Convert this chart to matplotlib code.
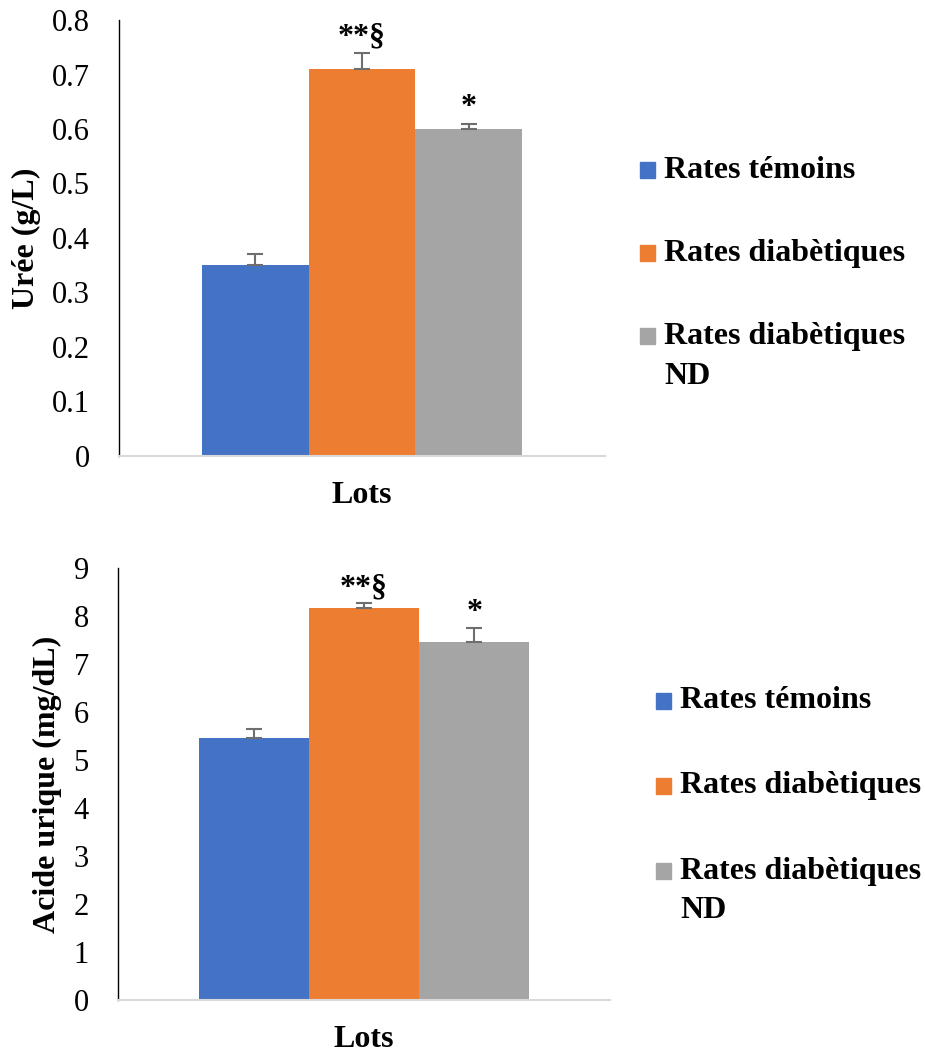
import matplotlib.pyplot as plt
from matplotlib.patches import Rectangle

plt.rcParams['font.family'] = ['Liberation Serif', 'DejaVu Serif']

groups = ['Rates témoins', 'Rates diabètiques', 'Rates diabètiques\nND']
colors = ['#4472c4', '#ed7d31', '#a5a5a5']

# urea (g/L)
uree = [0.35, 0.71, 0.60]
uree_err = [0.02, 0.03, 0.01]
uree_sig = ['', '**§', '*']
uree_ticks = [0, 0.1, 0.2, 0.3, 0.4, 0.5, 0.6, 0.7, 0.8]

# uric acid (mg/dL)
acide = [5.45, 8.17, 7.46]
acide_err = [0.2, 0.1, 0.3]
acide_sig = ['', '**§', '*']
acide_ticks = [0, 1, 2, 3, 4, 5, 6, 7, 8, 9]

fig = plt.figure(figsize=(9.25, 10.52), dpi=100)
W, H = 925, 1052


def draw(rect, vals, errs, sigs, ticks, ylabel, width, leg_x, leg_y, off):
    ax = fig.add_axes(rect)
    pos = [-width, 0, width]
    for p, v, e, c in zip(pos, vals, errs, colors):
        ax.bar(p, v, width=width, color=c, zorder=2)
        ax.errorbar(p, v, yerr=[[0], [e]], color='#6e6e6e', capsize=6,
                    elinewidth=1.5, capthick=1.5, zorder=3)
    for p, v, e, s in zip(pos, vals, errs, sigs):
        if s:
            ax.text(p, v + e + off, s, ha='center', va='bottom',
                    fontsize=23, fontweight='bold')
    ax.set_xlim(-0.5, 0.5)
    ax.set_ylim(ticks[0], ticks[-1])
    ax.set_yticks(ticks)
    ax.set_yticklabels([f'{t:g}' for t in ticks], fontsize=22)
    ax.set_xticks([])
    ax.tick_params(axis='y', length=0, pad=21)
    ax.spines['top'].set_visible(False)
    ax.spines['right'].set_visible(False)
    ax.spines['left'].set_color('#000000')
    ax.spines['left'].set_linewidth(1.0)
    ax.spines['bottom'].set_color('#d9d9d9')
    ax.spines['bottom'].set_linewidth(1.5)
    ax.set_ylabel(ylabel, fontsize=23, fontweight='bold', labelpad=8)
    ax.set_xlabel('Lots', fontsize=23, fontweight='bold', labelpad=18)

    # legend drawn by hand so the marker sits on the first line
    for i, (g, c) in enumerate(zip(groups, colors)):
        ytop = leg_y[i]
        fig.add_artist(Rectangle((leg_x / W, 1 - (ytop + 16) / H), 15 / W, 16 / H,
                                 color=c, transform=fig.transFigure))
        lines = g.split('\n')
        fig.text((leg_x + 24) / W, 1 - (ytop + 8) / H, lines[0],
                 fontsize=23, fontweight='bold', va='center', ha='left')
        if len(lines) > 1:
            fig.text((leg_x + 24) / W, 1 - (ytop + 48) / H, lines[1],
                     fontsize=23, fontweight='bold', va='center', ha='left')


draw([119 / W, 1 - 456 / H, 486 / W, 436 / H], uree, uree_err, uree_sig,
     uree_ticks, 'Urée (g/L)', 0.22, 640, [162, 245, 328], 0.002)
draw([118 / W, 1 - 1000 / H, 492 / W, 432 / H], acide, acide_err, acide_sig,
     acide_ticks, 'Acide urique (mg/dL)', 0.224, 656, [693, 778, 863], 0.02)

fig.savefig('out.png', dpi=100, facecolor='white')
